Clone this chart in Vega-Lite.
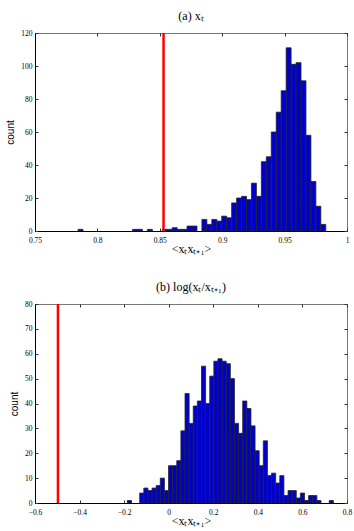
{
  "$schema": "https://vega.github.io/schema/vega-lite/v6.json",
  "padding": {"top": 9, "left": 5, "right": 8, "bottom": 4},
  "spacing": 25,
  "datasets": {
    "xa": [
      {"lo": 0.7845, "hi": 0.78847, "n": 1},
      {"lo": 0.82817, "hi": 0.83214, "n": 1},
      {"lo": 0.83214, "hi": 0.83611, "n": 1},
      {"lo": 0.84008, "hi": 0.84405, "n": 1},
      {"lo": 0.85199, "hi": 0.85596, "n": 1},
      {"lo": 0.85596, "hi": 0.85993, "n": 1},
      {"lo": 0.85993, "hi": 0.8639, "n": 2},
      {"lo": 0.8639, "hi": 0.86787, "n": 1},
      {"lo": 0.86787, "hi": 0.87184, "n": 1},
      {"lo": 0.87184, "hi": 0.87581, "n": 3},
      {"lo": 0.87581, "hi": 0.87978, "n": 3},
      {"lo": 0.88375, "hi": 0.88772, "n": 7},
      {"lo": 0.88772, "hi": 0.89169, "n": 4},
      {"lo": 0.89169, "hi": 0.89566, "n": 7},
      {"lo": 0.89566, "hi": 0.89963, "n": 6},
      {"lo": 0.89963, "hi": 0.9036, "n": 9},
      {"lo": 0.9036, "hi": 0.90757, "n": 8},
      {"lo": 0.90757, "hi": 0.91154, "n": 17},
      {"lo": 0.91154, "hi": 0.91551, "n": 20},
      {"lo": 0.91551, "hi": 0.91948, "n": 21},
      {"lo": 0.91948, "hi": 0.92345, "n": 19},
      {"lo": 0.92345, "hi": 0.92742, "n": 29},
      {"lo": 0.92742, "hi": 0.93139, "n": 21},
      {"lo": 0.93139, "hi": 0.93536, "n": 42},
      {"lo": 0.93536, "hi": 0.93933, "n": 45},
      {"lo": 0.93933, "hi": 0.9433, "n": 60},
      {"lo": 0.9433, "hi": 0.94727, "n": 72},
      {"lo": 0.94727, "hi": 0.95124, "n": 85},
      {"lo": 0.95124, "hi": 0.95521, "n": 111},
      {"lo": 0.95521, "hi": 0.95918, "n": 101},
      {"lo": 0.95918, "hi": 0.96315, "n": 102},
      {"lo": 0.96315, "hi": 0.96712, "n": 91},
      {"lo": 0.96712, "hi": 0.97109, "n": 58},
      {"lo": 0.97109, "hi": 0.97506, "n": 30},
      {"lo": 0.97506, "hi": 0.97903, "n": 15},
      {"lo": 0.97903, "hi": 0.983, "n": 4}
    ],
    "xb": [
      {"lo": -0.1857, "hi": -0.16721, "n": 1},
      {"lo": -0.13023, "hi": -0.11174, "n": 4},
      {"lo": -0.11174, "hi": -0.09325, "n": 6},
      {"lo": -0.09325, "hi": -0.07476, "n": 5},
      {"lo": -0.07476, "hi": -0.05627, "n": 6},
      {"lo": -0.05627, "hi": -0.03778, "n": 7},
      {"lo": -0.03778, "hi": -0.01929, "n": 10},
      {"lo": -0.01929, "hi": -0.0008, "n": 5},
      {"lo": -0.0008, "hi": 0.01769, "n": 15},
      {"lo": 0.01769, "hi": 0.03618, "n": 15},
      {"lo": 0.03618, "hi": 0.05467, "n": 17},
      {"lo": 0.05467, "hi": 0.07316, "n": 29},
      {"lo": 0.07316, "hi": 0.09165, "n": 44},
      {"lo": 0.09165, "hi": 0.11014, "n": 32},
      {"lo": 0.11014, "hi": 0.12863, "n": 39},
      {"lo": 0.12863, "hi": 0.14712, "n": 41},
      {"lo": 0.14712, "hi": 0.16561, "n": 55},
      {"lo": 0.16561, "hi": 0.1841, "n": 40},
      {"lo": 0.1841, "hi": 0.20259, "n": 51},
      {"lo": 0.20259, "hi": 0.22108, "n": 57},
      {"lo": 0.22108, "hi": 0.23957, "n": 58},
      {"lo": 0.23957, "hi": 0.25806, "n": 57},
      {"lo": 0.25806, "hi": 0.27655, "n": 56},
      {"lo": 0.27655, "hi": 0.29504, "n": 50},
      {"lo": 0.29504, "hi": 0.31353, "n": 32},
      {"lo": 0.31353, "hi": 0.33202, "n": 28},
      {"lo": 0.33202, "hi": 0.35051, "n": 41},
      {"lo": 0.35051, "hi": 0.369, "n": 38},
      {"lo": 0.369, "hi": 0.38749, "n": 31},
      {"lo": 0.38749, "hi": 0.40598, "n": 21},
      {"lo": 0.40598, "hi": 0.42447, "n": 15},
      {"lo": 0.42447, "hi": 0.44296, "n": 25},
      {"lo": 0.44296, "hi": 0.46145, "n": 11},
      {"lo": 0.46145, "hi": 0.47994, "n": 12},
      {"lo": 0.47994, "hi": 0.49843, "n": 8},
      {"lo": 0.49843, "hi": 0.51692, "n": 11},
      {"lo": 0.51692, "hi": 0.53541, "n": 3},
      {"lo": 0.53541, "hi": 0.5539, "n": 5},
      {"lo": 0.5539, "hi": 0.57239, "n": 5},
      {"lo": 0.57239, "hi": 0.59088, "n": 2},
      {"lo": 0.59088, "hi": 0.60937, "n": 4},
      {"lo": 0.60937, "hi": 0.62786, "n": 1},
      {"lo": 0.62786, "hi": 0.64635, "n": 3},
      {"lo": 0.64635, "hi": 0.66484, "n": 3},
      {"lo": 0.66484, "hi": 0.68333, "n": 1},
      {"lo": 0.72031, "hi": 0.7388, "n": 1}
    ],
    "ra": [{"v": 0.853}],
    "rb": [{"v": -0.497}]
  },
  "vconcat": [
    {
      "width": 312,
      "height": 198,
      "title": {"text": "(a) xₜ"},
      "layer": [
        {
          "data": {"name": "xa"},
          "mark": {"type": "rect", "fill": "#0000cc", "stroke": "#222222", "strokeWidth": 0.8},
          "encoding": {
            "x": {"field": "lo", "type": "quantitative", "scale": {"domain": [0.75, 1], "nice": false, "zero": false},
              "axis": {"orient": "bottom", "title": "<xₜxₜ₊₁>", "values": [0.75, 0.8, 0.85, 0.9, 0.95, 1], "format": "~g"}},
            "x2": {"field": "hi"},
            "y": {"field": "n", "type": "quantitative", "scale": {"domain": [0, 120], "nice": false},
              "axis": {"orient": "left", "title": "count", "values": [0, 20, 40, 60, 80, 100, 120]}},
            "y2": {"datum": 0}
          }
        },
        {
          "data": {"name": "xa"},
          "mark": {"type": "rect", "opacity": 0},
          "encoding": {
            "x": {"field": "lo", "type": "quantitative",
              "axis": {"orient": "top", "title": null, "labels": false, "domain": false, "values": [0.75, 0.8, 0.85, 0.9, 0.95, 1]}},
            "x2": {"field": "hi"},
            "y": {"field": "n", "type": "quantitative",
              "axis": {"orient": "right", "title": null, "labels": false, "domain": false, "values": [0, 20, 40, 60, 80, 100, 120]}},
            "y2": {"datum": 0}
          }
        },
        {
          "data": {"name": "ra"},
          "mark": {"type": "rule", "color": "#ff0000", "strokeWidth": 2.5},
          "encoding": {"x": {"field": "v", "type": "quantitative", "axis": null}}
        }
      ]
    },
    {
      "width": 312,
      "height": 199,
      "title": {"text": "(b) log(xₜ/xₜ₊₁)"},
      "layer": [
        {
          "data": {"name": "xb"},
          "mark": {"type": "rect", "fill": "#0000cc", "stroke": "#222222", "strokeWidth": 0.8},
          "encoding": {
            "x": {"field": "lo", "type": "quantitative", "scale": {"domain": [-0.6, 0.8], "nice": false, "zero": false},
              "axis": {"orient": "bottom", "title": "<xₜxₜ₊₁>", "values": [-0.6, -0.4, -0.2, 0, 0.2, 0.4, 0.6, 0.8], "format": "~g"}},
            "x2": {"field": "hi"},
            "y": {"field": "n", "type": "quantitative", "scale": {"domain": [0, 80], "nice": false},
              "axis": {"orient": "left", "title": "count", "values": [0, 10, 20, 30, 40, 50, 60, 70, 80]}},
            "y2": {"datum": 0}
          }
        },
        {
          "data": {"name": "xb"},
          "mark": {"type": "rect", "opacity": 0},
          "encoding": {
            "x": {"field": "lo", "type": "quantitative",
              "axis": {"orient": "top", "title": null, "labels": false, "domain": false, "values": [-0.6, -0.4, -0.2, 0, 0.2, 0.4, 0.6, 0.8]}},
            "x2": {"field": "hi"},
            "y": {"field": "n", "type": "quantitative",
              "axis": {"orient": "right", "title": null, "labels": false, "domain": false, "values": [0, 10, 20, 30, 40, 50, 60, 70, 80]}},
            "y2": {"datum": 0}
          }
        },
        {
          "data": {"name": "rb"},
          "mark": {"type": "rule", "color": "#ff0000", "strokeWidth": 2.5},
          "encoding": {"x": {"field": "v", "type": "quantitative", "axis": null}}
        }
      ]
    }
  ],
  "config": {
    "font": "Liberation Serif",
    "view": {"stroke": "#777777", "strokeWidth": 1},
    "axis": {
      "grid": false,
      "labelFont": "Liberation Serif",
      "labelFontSize": 7.5,
      "labelColor": "#000000",
      "labelFlush": false,
      "labelOverlap": false,
      "labelPadding": 6,
      "tickSize": -3,
      "tickColor": "#333333",
      "domainColor": "#000000",
      "titleFont": "Liberation Serif",
      "titleFontSize": 12,
      "titleFontWeight": "normal",
      "titleColor": "#000000",
      "titlePadding": 1
    },
    "axisX": {"labelPadding": 8, "titlePadding": 0},
    "axisY": {"titleFont": "Liberation Sans", "titleFontSize": 10, "titlePadding": 5},
    "title": {"font": "Liberation Serif", "fontSize": 12, "fontWeight": "normal", "color": "#000000", "offset": 6}
  }
}
